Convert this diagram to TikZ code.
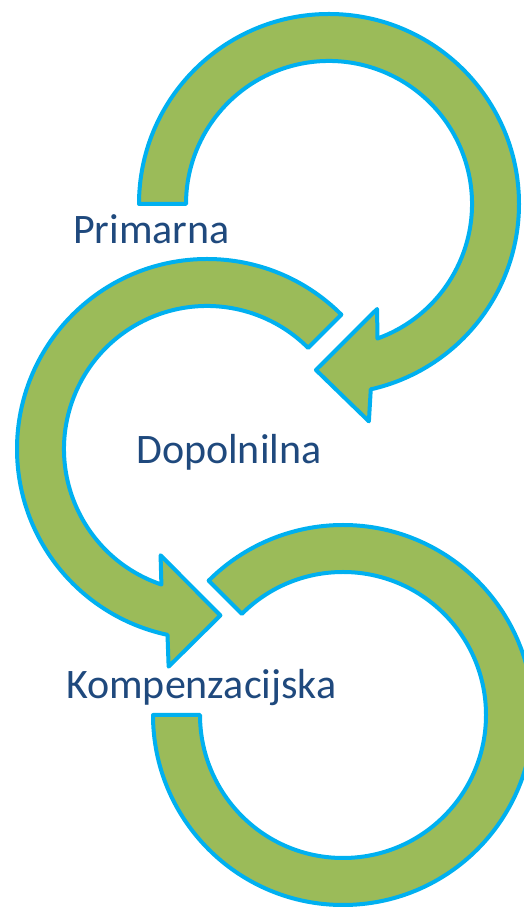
\documentclass[tikz,border=0pt]{standalone}
\usepackage{fontspec}
\setmainfont{Carlito}
\usepackage{xcolor}
\definecolor{arrowgreen}{HTML}{9BBB59}
\definecolor{arrowline}{HTML}{00B0F0}
\definecolor{labelblue}{HTML}{1F497D}

\begin{document}
\begin{tikzpicture}[x=1pt,y=1pt]
\tikzset{ArrowStyle/.style={fill=arrowgreen, draw=arrowline, line width=4pt, line join=round}}
\tikzset{LabelStyle/.style={anchor=base west, inner sep=0pt, text=labelblue, font=\fontsize{42}{50}\selectfont}}
\useasboundingbox (0,0) rectangle (523,907);
\coordinate (c1) at (329,703);
\coordinate (c2) at (207,458);
\coordinate (c3) at (343,192);
\begin{scope}[shift={(c1)}]
\draw[ArrowStyle] (180:143) -- (180:190) arc[start angle=180, end angle=-77.3, radius=190]
  -- (-79.6:221) -- (-94.5:166.5) -- (-65.4:115.5) -- (-70.2:143)
  arc[start angle=-70.2, end angle=180, radius=143] -- cycle;
\end{scope}
\begin{scope}[shift={(c2)}]
\draw[ArrowStyle] (45:143) -- (45:190) arc[start angle=45, end angle=258, radius=190]
  -- (260:221) -- (274.6:167) -- (246.4:116) -- (251.4:143)
  arc[start angle=251.4, end angle=45, radius=143] -- cycle;
\end{scope}
\begin{scope}[shift={(c3)}]
\draw[ArrowStyle] (180:143) -- (180:190) arc[start angle=180, end angle=495, radius=190]
  -- (495:143) arc[start angle=495, end angle=180, radius=143] -- cycle;
\end{scope}
\node[LabelStyle] (primarna) at (73,663) {Primarna};
\node[LabelStyle] (dopolnilna) at (136,443) {Dopolnilna};
\node[LabelStyle] (kompenzacijska) at (66,208) {Kompenzacijska};
\end{tikzpicture}
\end{document}
